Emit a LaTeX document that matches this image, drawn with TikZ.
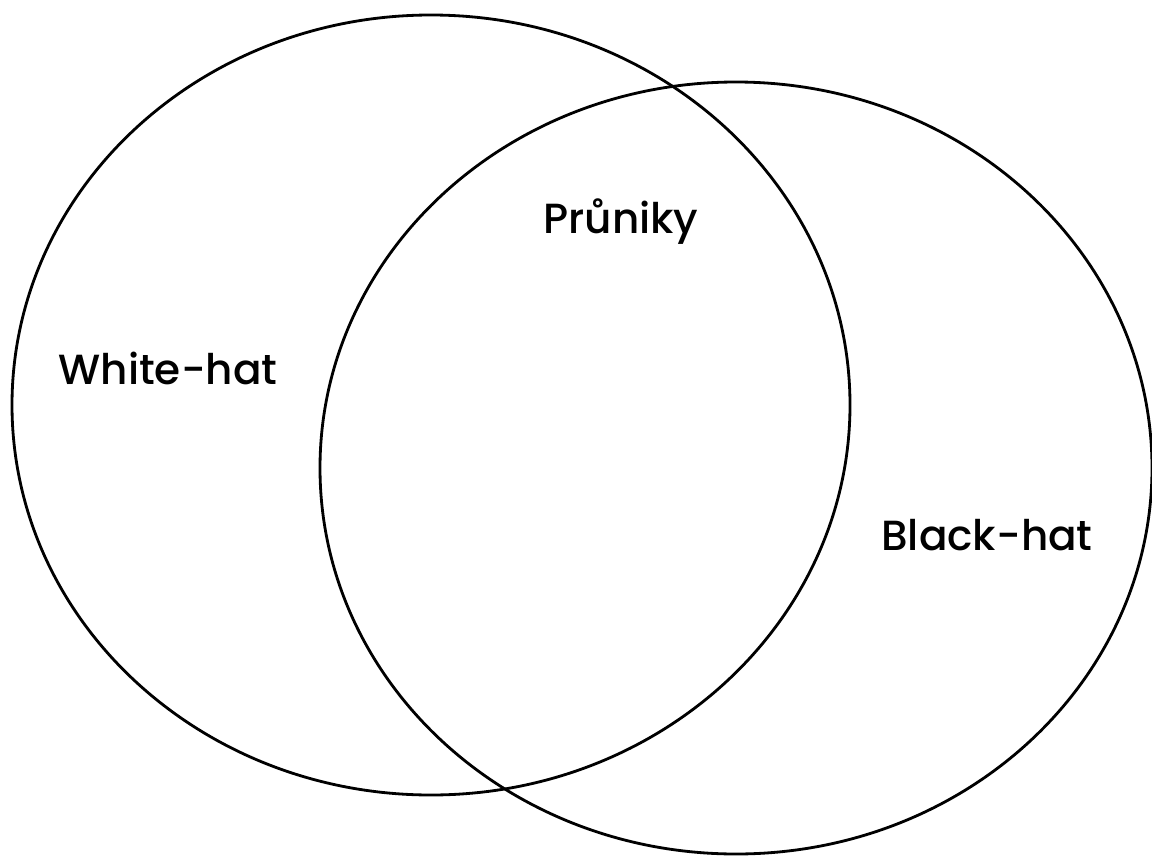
\documentclass[tikz,border=0pt]{standalone}
\usepackage{fontspec}
\setmainfont{Poppins}[UprightFont=* Medium]
\usetikzlibrary{positioning}

\begin{document}
\begin{tikzpicture}[x=0.02cm, y=-0.02cm,
					circ/.style={draw=black, line width=1.6pt},
					label/.style={font=\fontsize{24}{28}\selectfont, text=black, inner sep=0pt}
					]
					\useasboundingbox (0,0) rectangle (1152,855);
					
					% Sets
					\draw[circ] (431,405) ellipse (419 and 390);
					\draw[circ] (736,468) ellipse (416 and 386);
					
					% Labels
					\node[label] (white) at (168,368) {White-hat};
					\node[label] (black) at (987,535) {Black-hat};
					\node[label] (inter) at (621,222) {Průniky};
					
				\end{tikzpicture}
\end{document}
